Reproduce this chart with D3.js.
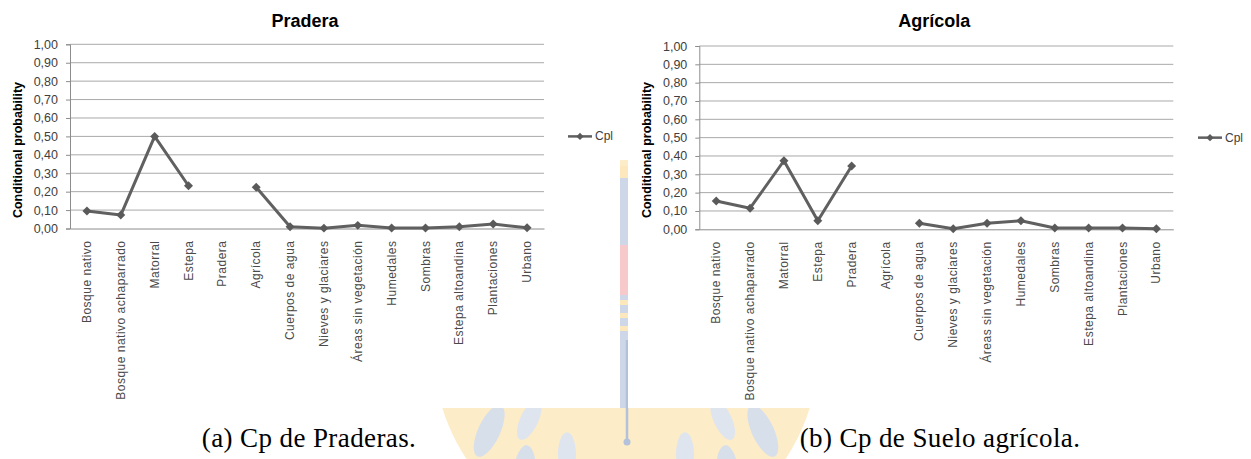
<!DOCTYPE html>
<html>
<head>
<meta charset="utf-8">
<script src="https://cdn.jsdelivr.net/npm/d3@7"></script>
<style>
  html, body { margin: 0; padding: 0; background: #fff; }
  svg { display: block; }
</style>
</head>
<body>
<svg id="fig" width="1251" height="459"></svg>
<script>
// Land-cover classes shown on the category axis
const categories = [
  "Bosque nativo", "Bosque nativo achaparrado", "Matorral", "Estepa", "Pradera",
  "Agrícola", "Cuerpos de agua", "Nieves y glaciares", "Áreas sin vegetación",
  "Humedales", "Sombras", "Estepa altoandina", "Plantaciones", "Urbano"
];

// Conditional probability (Cpl) per class; null = class itself (no value)
const praderaValues = [0.095, 0.073, 0.500, 0.232, null, 0.224, 0.010, 0.002, 0.017, 0.003, 0.003, 0.010, 0.024, 0.004];
const agricolaValues = [0.154, 0.115, 0.374, 0.047, 0.345, null, 0.033, 0.003, 0.033, 0.047, 0.007, 0.007, 0.007, 0.003];

// Y axis tick values
const yTickValues = [0, 0.1, 0.2, 0.3, 0.4, 0.5, 0.6, 0.7, 0.8, 0.9, 1.0];

const seriesName = "Cpl";
const yTitle = "Conditional probability";

const panels = [
  { title: "Pradera", caption: "(a) Cp de Praderas.", values: praderaValues,
    box: { x: 0, w: 620 }, plot: { x: 70, y: 44.3, w: 474, h: 184.2 }, legendX: 568,
    captionX: 309 },
  { title: "Agrícola", caption: "(b) Cp de Suelo agrícola.", values: agricolaValues,
    box: { x: 628, w: 623 }, plot: { x: 699.3, y: 46, w: 474, h: 183.3 }, legendX: 1198,
    captionX: 940 }
];

const svg = d3.select("#fig");
const fmt = d => d3.format(".2f")(d).replace(".", ",");

// ---- faint university crest in the page background ----
const wm = svg.append("g");
const cx = 626, cy = 352;
wm.append("circle").attr("cx", cx).attr("cy", cy).attr("r", 192).attr("fill", "#fdecc8");
// laurel leaves around the ring
d3.range(-160, 161, 20).forEach(a => {
  const rad = (a - 90) * Math.PI / 180;
  const r = 158;
  const lx = cx + r * Math.cos(rad), ly = cy + r * Math.sin(rad);
  wm.append("ellipse")
    .attr("cx", lx).attr("cy", ly)
    .attr("rx", 11).attr("ry", 28)
    .attr("transform", `rotate(${a + (a < 0 ? -35 : 35)},${lx},${ly})`)
    .attr("fill", "#d7dfeb");
});
d3.range(-150, 151, 25).forEach(a => {
  const rad = (a - 90) * Math.PI / 180;
  const r = 118;
  const lx = cx + r * Math.cos(rad), ly = cy + r * Math.sin(rad);
  wm.append("ellipse")
    .attr("cx", lx).attr("cy", ly)
    .attr("rx", 9).attr("ry", 22)
    .attr("transform", `rotate(${a + (a < 0 ? -30 : 30)},${lx},${ly})`)
    .attr("fill", "#dfe5ef");
});
// shield column
wm.append("rect").attr("x", 600).attr("y", 166).attr("width", 52).attr("height", 242).attr("fill", "#cdd7e8");
wm.append("rect").attr("x", 600).attr("y", 166).attr("width", 52).attr("height", 12).attr("fill", "#fde7bd");
wm.append("rect").attr("x", 600).attr("y", 245).attr("width", 52).attr("height", 50).attr("fill", "#f7c9cb");
[300, 313, 326].forEach(yy => wm.append("rect").attr("x", 600).attr("y", yy).attr("width", 52).attr("height", 5).attr("fill", "#fde7bd"));
wm.append("line").attr("x1", 627).attr("x2", 627).attr("y1", 340).attr("y2", 440)
  .attr("stroke", "#b3c1da").attr("stroke-width", 2.5);
wm.append("circle").attr("cx", 627).attr("cy", 442).attr("r", 3.5).attr("fill", "#b3c1da");

// ---- chart panels ----
panels.forEach(p => {
  svg.append("rect").attr("x", p.box.x).attr("y", 0).attr("width", p.box.w).attr("height", 408).attr("fill", "#fff");

  const g = svg.append("g").attr("transform", `translate(${p.plot.x},${p.plot.y})`);
  const x = d3.scaleBand().domain(categories).range([0, p.plot.w]);
  const y = d3.scaleLinear().domain([0, 1]).range([p.plot.h, 0]);

  // horizontal gridlines
  g.append("g").selectAll("line").data(yTickValues.filter(v => v > 0)).join("line")
    .attr("x1", 0).attr("x2", p.plot.w)
    .attr("y1", d => y(d)).attr("y2", d => y(d))
    .attr("stroke", "#a9a9a9").attr("stroke-width", 1);

  // y axis
  const ya = g.append("g").call(d3.axisLeft(y).tickValues(yTickValues).tickFormat(fmt).tickSize(4).tickPadding(8));
  ya.select(".domain").attr("stroke", "#8c8c8c");
  ya.selectAll(".tick line").attr("stroke", "#8c8c8c");
  ya.selectAll("text").attr("font-family", "Liberation Sans, Arial, sans-serif")
    .attr("font-size", 12.5).attr("fill", "#404040");

  // x axis
  const xa = g.append("g").attr("transform", `translate(0,${p.plot.h})`)
    .call(d3.axisBottom(x).tickSize(0).tickPadding(0));
  xa.select(".domain").attr("stroke", "#8c8c8c");
  xa.selectAll("text")
    .attr("font-family", "Liberation Sans, Arial, sans-serif")
    .attr("font-size", 12).attr("letter-spacing", 0.5).attr("fill", "#4a4a4a")
    .attr("text-anchor", "end")
    .attr("dy", null)
    .attr("transform", "translate(4,12) rotate(-90)");

  // series line with gaps
  const line = d3.line()
    .defined(d => d.v != null)
    .x(d => x(d.c) + x.bandwidth() / 2)
    .y(d => y(d.v));
  const pts = categories.map((c, i) => ({ c, v: p.values[i] }));
  g.append("path").datum(pts).attr("d", line)
    .attr("fill", "none").attr("stroke", "#606060").attr("stroke-width", 3).attr("stroke-linejoin", "round");

  const marker = d3.symbol(d3.symbolSquare, 40);
  g.append("g").selectAll("path").data(pts.filter(d => d.v != null)).join("path")
    .attr("d", marker)
    .attr("transform", d => `translate(${x(d.c) + x.bandwidth() / 2},${y(d.v)}) rotate(45)`)
    .attr("fill", "#5a5a5a");

  // title
  svg.append("text").attr("x", p.plot.x + p.plot.w / 2 - 2).attr("y", 27)
    .attr("text-anchor", "middle").attr("font-family", "Liberation Sans, Arial, sans-serif")
    .attr("font-weight", "bold").attr("font-size", 18).attr("fill", "#000").text(p.title);

  // y title
  svg.append("text")
    .attr("transform", `translate(${p.plot.x - 48},150) rotate(-90)`)
    .attr("text-anchor", "middle").attr("font-family", "Liberation Sans, Arial, sans-serif")
    .attr("font-weight", "bold").attr("font-size", 12.5).attr("fill", "#000").text(yTitle);

  // legend
  const lg = svg.append("g").attr("transform", `translate(${p.legendX},${p.plot.y + y(0.5)})`);
  lg.append("line").attr("x1", 0).attr("x2", 24).attr("stroke", "#606060").attr("stroke-width", 2.5);
  lg.append("path").attr("d", d3.symbol(d3.symbolSquare, 26)).attr("transform", "translate(12,0) rotate(45)").attr("fill", "#5a5a5a");
  lg.append("text").attr("x", 27).attr("y", 4).attr("font-family", "Liberation Sans, Arial, sans-serif")
    .attr("font-size", 12).attr("fill", "#404040").text(seriesName);

  // caption
  svg.append("text").attr("x", p.captionX).attr("y", 447)
    .attr("text-anchor", "middle")
    .attr("font-family", "'Liberation Serif', serif")
    .attr("font-size", 27).attr("letter-spacing", 0.4).attr("fill", "#000")
    .text(p.caption);
});
</script>
</body>
</html>
